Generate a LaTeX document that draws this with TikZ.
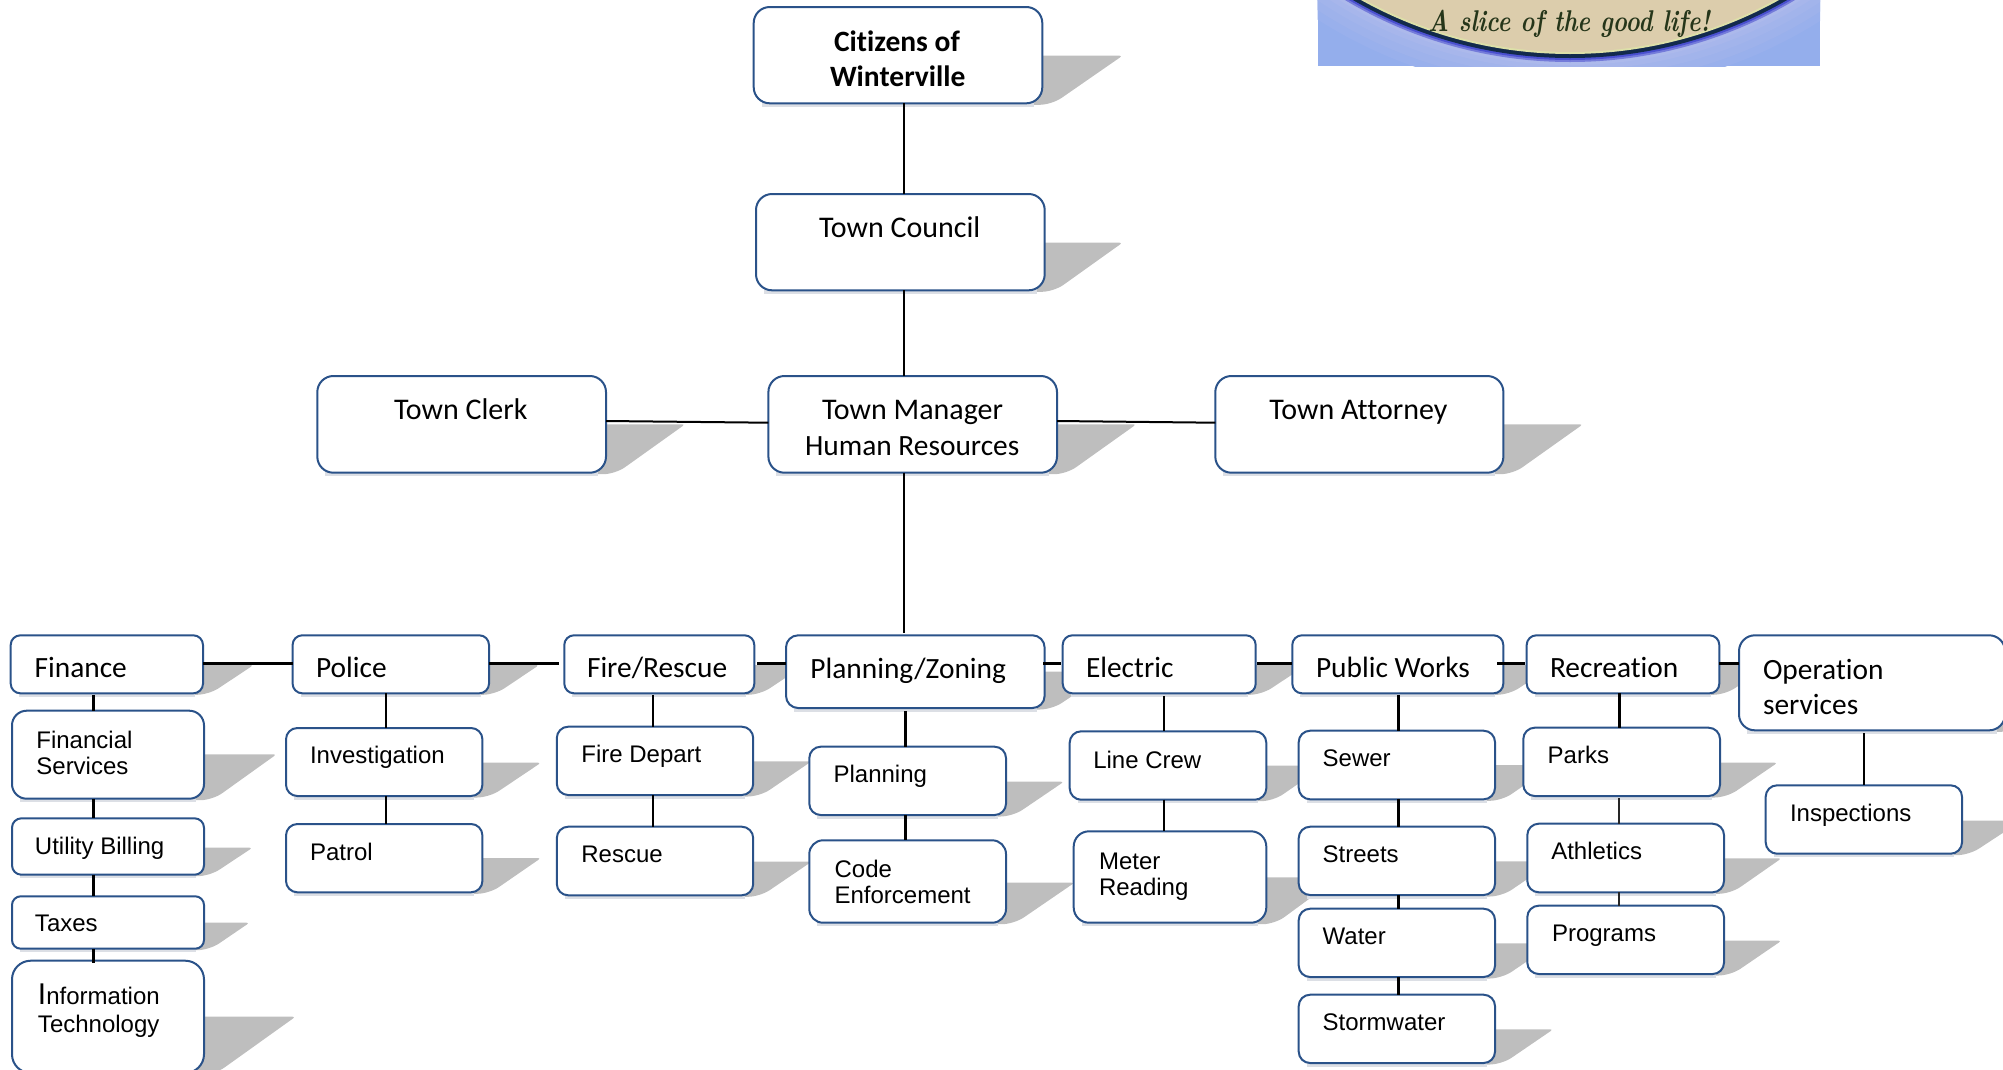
\documentclass[tikz,border=0pt]{standalone}
\usepackage{fontspec}
\newfontfamily\calfont[Ligatures=NoCommon]{Carlito}
\newfontfamily\arifont{Liberation Sans}
\definecolor{boxblue}{HTML}{2A5289}
\definecolor{shadowgray}{HTML}{BEBEBE}
\definecolor{undershade}{HTML}{DCDFE5}
\definecolor{logoblue}{HTML}{94AEEC}
\definecolor{logohalo}{HTML}{B4BCEA}
\definecolor{logotan}{HTML}{DCCDAC}
\definecolor{logopale}{HTML}{DDE0A8}
\definecolor{logodark}{HTML}{122A4C}
\definecolor{logoglow}{HTML}{4A50D0}
\definecolor{logotext}{HTML}{26361A}
\newcommand{\calsz}{\calfont\fontsize{29.4}{35.5}\selectfont}
\newcommand{\caltop}{\calfont\fontsize{30}{35.5}\selectfont}
\newcommand{\calbf}{\calfont\bfseries\fontsize{29.5}{34.6}\selectfont}
\newcommand{\arisz}{\advance\leftskip 1pt\arifont\fontsize{24}{26.7}\selectfont}
\tikzset{
  orgbox/.style={draw=boxblue,line width=2pt,fill=white,
    inner sep=0pt,outer sep=0pt,anchor=north west},
  orgshadow/.style={fill=shadowgray},
  thinlink/.style={draw=black,line width=2pt},
  thicklink/.style={draw=black,line width=3pt},
}
% name (x1,y1,x2,y2)(shadow top,shadow tip)(text x,text baseline){font}{text}
\makeatletter
\def\orgnode#1(#2,#3,#4,#5)(#6,#7)(#8,#9){%
  \def\on@name{#1}\def\on@xa{#2}\def\on@ya{#3}\def\on@xb{#4}\def\on@yb{#5}%
  \def\on@st{#6}\def\on@tip{#7}\def\on@tx{#8}\def\on@ty{#9}\on@tail}
\def\on@tail#1#2{%
  \pgfmathsetmacro\on@w{\on@xb-\on@xa}%
  \pgfmathsetmacro\on@h{\on@yb-\on@ya}%
  \pgfmathsetmacro\on@rad{\on@h/6}%
  \pgfmathsetmacro\on@dl{\on@tx-\on@xa-1}%
  \pgfmathsetmacro\on@dt{\on@ty-\on@ya}%
  \pgfmathsetmacro\on@tipx{\on@tip+2.5}%
  \pgfmathsetmacro\on@foot{\on@xb+0.12*(\on@tip-\on@xb)}%
  \pgfmathsetmacro\on@in{\on@xb-14}%
  \fill[orgshadow] (\on@in,\on@st) [rounded corners=3pt] -- (\on@tipx,\on@st) [rounded corners=12pt] -- (\on@foot,\on@yb+1.5) [sharp corners] -- (\on@in,\on@yb+1.5) -- cycle;
  \fill[undershade] (\on@xa+8,\on@yb-4) rectangle (\on@xb-8,\on@yb+3.5);
  \node[orgbox,rounded corners=\on@rad pt,minimum width=\on@w pt,minimum height=\on@h pt] (\on@name) at (\on@xa,\on@ya)
    {\parbox[c][\on@h pt][t]{\on@w pt}{\leftskip=\on@dl pt\rightskip=0pt plus 1fil\parindent=0pt #1\rule{0pt}{\on@dt pt}#2}};%
}
\makeatother
% vertical connector at column x from the south of #2 to the north of #3
\newcommand{\vlink}[4][]{\coordinate (vx) at (#4,0);\draw[#1] (#2.south -| vx) -- (#3.north -| vx);}
% horizontal connector at height y from the east of #2 to the west of #3
\newcommand{\hlink}[4][]{\coordinate (hy) at (0,#4);\draw[#1] (#2.east |- hy) -- (#3.west |- hy);}
\begin{document}
\begin{tikzpicture}[x=1pt,y=-1pt]
\useasboundingbox (0,0) rectangle (2003,1069);
\clip (0,0) rectangle (2003,1069);
% logo
\begin{scope}
\clip (1317.5,0) rectangle (1820,66);
\fill[logoblue] (1317.5,0) rectangle (1820,66);
\foreach \r/\m in {470/15,462/30,454/45,447/60,442/75}{
  \fill[logohalo!\m!logoblue] (1570,-377) circle (\r);}
\fill[logoglow!60!logohalo] (1570,-377) circle (439);
\fill[logoglow] (1570,-377) circle (437);
\fill[logodark] (1570,-377) circle (435);
\fill[logopale] (1570,-377) circle (431);
\fill[logotan] (1570,-377) circle (429);
\node[font=\itshape\bfseries\fontsize{30}{30}\selectfont,text=logotext,inner sep=0pt,anchor=base,xscale=0.8,transform shape] (tagline) at (1569,31.5) {A slice of the good life!};
\end{scope}
% top of the chart
\orgnode{citizens}(753.7,7,1042.3,103.3)(55.7,1120)(835,51.5){\calbf}{Citizens of\\\hspace*{-4pt}Winterville}
\orgnode{council}(756,194,1044.7,290.3)(242.7,1120)(820,237.7){\caltop}{Town Council}
\orgnode{clerk}(317.3,376,606,472.7)(424.3,682.6)(395,419.7){\caltop}{Town Clerk}
\orgnode{manager}(768.4,376,1057,472.7)(424.3,1133.8)(806,419.7){\caltop}{\hspace*{17pt}Town Manager\\{\fontsize{29.4}{35.5}\selectfont Human Resources}}
\orgnode{attorney}(1215.3,376,1503.4,472.7)(424.3,1580.4)(1270.4,419.7){\caltop}{Town Attorney}
% Finance
\orgnode{finance}(10.7,635.3,203,693.3)(665,251)(35.6,677.3){\calsz}{Finance}
\orgnode{finserv}(12,710.7,204,798.7)(754.3,274)(36.4,748){\arisz}{Financial\\Services}
\orgnode{utility}(12,818.3,204,874.7)(847.7,250)(35,854){\arisz}{Utility Billing}
\orgnode{taxes}(12,896.3,204,948.7)(922.7,247)(35,931.7){\arisz}{Taxes}
\orgnode{infotech}(12,960.7,204,1073)(1016.7,293)(38,1004){\arisz}{{\fontsize{30}{30}\selectfont I}nformation\\[2pt]Technology}
% Police
\orgnode{police}(292.6,635.3,489,693.3)(665,536.6)(317,677.3){\calsz}{Police}
\orgnode{invest}(286,728,482.4,796)(762.7,538.5)(310,763.5){\arisz}{Investigation}
\orgnode{patrol}(286,824,482.4,892.3)(858,538.5)(310,860){\arisz}{Patrol}
% Fire
\orgnode{fire}(564.3,635.3,754.3,693.3)(665,802)(588,677.3){\calsz}{Fire/Rescue}
\orgnode{firedep}(556.8,726.7,753.2,795)(761.3,809)(581.4,762.7){\arisz}{Fire Depart}
\orgnode{rescue}(556.8,826.7,753.2,895.3)(861.7,809)(581.4,862.7){\arisz}{Rescue}
% Planning
\orgnode{zoning}(786,635.3,1044.6,708)(671.7,1106)(811.4,678.3){\calsz}{Planning/Zoning}
\orgnode{planning}(809.3,746.7,1006,815)(781.7,1061.4)(833.6,782.7){\arisz}{Planning}
\orgnode{code}(809.3,840.3,1006,922.7)(882.7,1072)(834.6,877){\arisz}{Code\\Enforcement}
% Electric
\orgnode{electric}(1062.7,635.3,1255.7,693.3)(665,1304)(1087,677.3){\calsz}{Electric}
\orgnode{linecrew}(1069.7,731.3,1266.3,799.7)(765.7,1322)(1093.3,768){\arisz}{Line Crew}
\orgnode{meter}(1073.7,831.3,1266.3,922.7)(877.3,1336)(1099,869){\arisz}{Meter\\Reading}
% Public Works
\orgnode{works}(1292.3,635.3,1503.3,693.3)(665,1551)(1317,677.3){\calsz}{Public Works}
\orgnode{sewer}(1298.7,730.7,1495,799.3)(765,1551)(1322.7,766.7){\arisz}{Sewer}
\orgnode{streets}(1298.7,826.7,1495,895)(861.3,1551)(1322.7,862.3){\arisz}{Streets}
\orgnode{water}(1298.7,908.7,1495,977)(943.3,1551)(1322.7,944.3){\arisz}{Water}
\orgnode{storm}(1298.7,994.7,1495,1063)(1029.3,1550.7)(1322.7,1030.7){\arisz}{Stormwater}
% Recreation
\orgnode{recreation}(1526.7,635.3,1719.3,693.3)(665,1767)(1551,677.3){\calsz}{Recreation}
\orgnode{parks}(1523.3,727.7,1720,796)(762.7,1775)(1547.7,763.3){\arisz}{Parks}
\orgnode{athletics}(1527.3,823.7,1724,892.3)(858.3,1779)(1551.3,859.3){\arisz}{Athletics}
\orgnode{programs}(1527.3,905.7,1724,974)(940.7,1779)(1552,941.7){\arisz}{Programs}
% Operation services
\orgnode{operation}(1739,635.3,2005,730.3)(683,2070)(1764,679){\calsz}{Operation\\services}
\orgnode{inspect}(1765.7,785.3,1962,853.7)(820.7,2019)(1790,821.7){\arisz}{Inspections}
% connectors: spine
\vlink[thinlink]{citizens}{council}{903.7}
\vlink[thinlink]{council}{manager}{903.7}
\vlink[thinlink,shorten >=2.6pt]{manager}{zoning}{904}
\draw[thinlink] (clerk.east |- 0,421) -- (manager.west |- 0,422.7);
\draw[thinlink] (manager.east |- 0,421) -- (attorney.west |- 0,422.7);
% connectors: department row
\hlink[thicklink]{finance}{police}{663}
\hlink[thicklink,shorten >=5pt]{police}{fire}{663}
\hlink[thicklink,shorten <=3pt]{fire}{zoning}{663}
\hlink[thicklink,shorten <=-1.5pt,shorten >=1.5pt]{zoning}{electric}{663}
\hlink[thicklink,shorten <=1.5pt]{electric}{works}{663}
\hlink[thicklink,shorten <=-6pt,shorten >=1.5pt]{works}{recreation}{663}
\hlink[thicklink]{recreation}{operation}{663}
% connectors: columns
\vlink[line width=2.5pt,shorten <=1.5pt]{finance}{finserv}{93.3}
\vlink[line width=2.5pt]{finserv}{utility}{93.3}
\vlink[line width=2.5pt]{utility}{taxes}{93.3}
\vlink[line width=2.5pt,shorten >=-2pt]{taxes}{infotech}{93.3}
\vlink[thinlink]{police}{invest}{385.8}
\vlink[thinlink]{invest}{patrol}{385.8}
\vlink[thinlink,shorten <=1.5pt]{fire}{firedep}{653}
\vlink[thinlink]{firedep}{rescue}{653}
\vlink[thicklink,shorten <=3pt]{zoning}{planning}{905.4}
\vlink[thicklink]{planning}{code}{905.4}
\vlink[thinlink,shorten <=2.5pt]{electric}{linecrew}{1164}
\vlink[thinlink]{linecrew}{meter}{1164}
\vlink[thicklink,shorten <=1.5pt]{works}{sewer}{1398.7}
\vlink[thicklink]{sewer}{streets}{1398.7}
\vlink[thicklink]{streets}{water}{1398.7}
\vlink[thicklink]{water}{storm}{1398.7}
\vlink[thicklink]{recreation}{parks}{1619.3}
\vlink[line width=2.5pt,black!85,shorten <=2pt]{parks}{athletics}{1619}
\vlink[line width=2.5pt,black!85]{athletics}{programs}{1619}
\vlink[thinlink,shorten <=3pt]{operation}{inspect}{1864}
\end{tikzpicture}
\end{document}
